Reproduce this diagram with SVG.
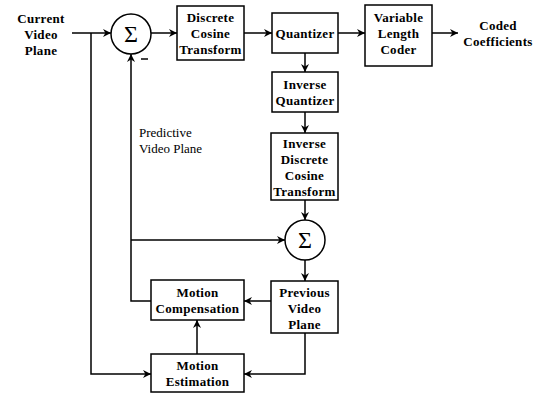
<svg xmlns="http://www.w3.org/2000/svg" width="537" height="394" viewBox="0 0 537 394" font-family="Liberation Serif, Times New Roman, serif">
<style>
.box{fill:#fff;stroke:#000;stroke-width:1.5}
.c{fill:#fff;stroke:#000;stroke-width:1.5}
.t{font-weight:bold;font-size:13px;text-anchor:middle;fill:#000;letter-spacing:0.3px}
.r{font-size:13px;fill:#000}
.s{font-size:24px;text-anchor:middle;fill:#000}
.ln{fill:none;stroke:#000;stroke-width:1.5}
</style>
<defs>
<marker id="a" viewBox="0 0 10 10" refX="10" refY="5" markerWidth="8" markerHeight="8" markerUnits="userSpaceOnUse" orient="auto">
<path d="M0,0 L10,5 L0,10 L3,5 z" fill="#000"/>
</marker>
</defs>
<g id="connectors">
<path class="ln" d="M72,33 H111" marker-end="url(#a)"/>
<path class="ln" d="M91,33 V374 H151" marker-end="url(#a)"/>
<path class="ln" d="M151,33 H177" marker-end="url(#a)"/>
<path class="ln" d="M244,33 H272" marker-end="url(#a)"/>
<path class="ln" d="M338,33 H365" marker-end="url(#a)"/>
<path class="ln" d="M432,33 H458" marker-end="url(#a)"/>
<path class="ln" d="M305,53 V72" marker-end="url(#a)"/>
<path class="ln" d="M305,112 V133" marker-end="url(#a)"/>
<path class="ln" d="M305,200 V220" marker-end="url(#a)"/>
<path class="ln" d="M131,240 H285" marker-end="url(#a)"/>
<path class="ln" d="M305,260 V281" marker-end="url(#a)"/>
<path class="ln" d="M271,301 H244" marker-end="url(#a)"/>
<path class="ln" d="M151,301 H131 V54" marker-end="url(#a)"/>
<path class="ln" d="M305,333 V374 H244" marker-end="url(#a)"/>
<path class="ln" d="M197,354 V320" marker-end="url(#a)"/>
<path class="ln" d="M141,59 H148"/>
</g>
<g id="input">
<text class="t" x="41" y="23">Current</text>
<text class="t" x="41" y="39">Video</text>
<text class="t" x="41" y="55">Plane</text>
</g>
<g id="sum1">
<circle class="c" cx="131" cy="34" r="20"/>
<text class="s" x="131" y="42">Σ</text>
</g>
<g id="dct">
<rect class="box" x="177" y="6" width="67" height="54"/>
<text class="t" x="210.5" y="22">Discrete</text>
<text class="t" x="210.5" y="38">Cosine</text>
<text class="t" x="210.5" y="54">Transform</text>
</g>
<g id="quantizer">
<rect class="box" x="272" y="13" width="66" height="40"/>
<text class="t" x="305" y="38">Quantizer</text>
</g>
<g id="vlc">
<rect class="box" x="365" y="5" width="67" height="61"/>
<text class="t" x="398.5" y="22">Variable</text>
<text class="t" x="398.5" y="38">Length</text>
<text class="t" x="398.5" y="54">Coder</text>
</g>
<g id="output">
<text class="t" x="498" y="30">Coded</text>
<text class="t" x="498" y="46">Coefficients</text>
</g>
<g id="iq">
<rect class="box" x="272" y="72" width="66" height="40"/>
<text class="t" x="305" y="89">Inverse</text>
<text class="t" x="305" y="105">Quantizer</text>
</g>
<g id="idct">
<rect class="box" x="271" y="133" width="67" height="67"/>
<text class="t" x="304.5" y="148">Inverse</text>
<text class="t" x="304.5" y="164">Discrete</text>
<text class="t" x="304.5" y="180">Cosine</text>
<text class="t" x="304.5" y="196">Transform</text>
</g>
<g id="predictive-label">
<text class="r" x="139" y="137">Predictive</text>
<text class="r" x="139" y="153">Video Plane</text>
</g>
<g id="sum2">
<circle class="c" cx="305" cy="240" r="20"/>
<text class="s" x="305" y="248">Σ</text>
</g>
<g id="mc">
<rect class="box" x="151" y="280" width="93" height="40"/>
<text class="t" x="197.5" y="297">Motion</text>
<text class="t" x="197.5" y="313">Compensation</text>
</g>
<g id="pvp">
<rect class="box" x="271" y="281" width="67" height="52"/>
<text class="t" x="304.5" y="297">Previous</text>
<text class="t" x="304.5" y="313">Video</text>
<text class="t" x="304.5" y="329">Plane</text>
</g>
<g id="me">
<rect class="box" x="151" y="354" width="93" height="38"/>
<text class="t" x="197.5" y="370">Motion</text>
<text class="t" x="197.5" y="386">Estimation</text>
</g>
</svg>
